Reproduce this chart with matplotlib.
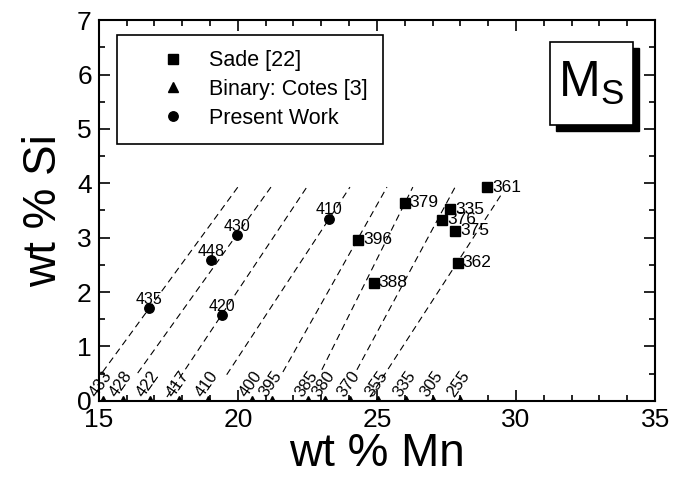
import numpy as np
import matplotlib
matplotlib.use("Agg")
import matplotlib.pyplot as plt
from matplotlib.patches import Rectangle

plt.rcParams['font.family'] = ['Liberation Sans', 'DejaVu Sans']
plt.rcParams['mathtext.default'] = 'regular'

# Sade [22]
sade_mn = [26.0, 24.32, 24.89, 27.63, 27.34, 27.81, 27.91, 28.96]
sade_si = [3.64, 2.96, 2.17, 3.52, 3.33, 3.13, 2.54, 3.93]
sade_ms = ['379', '396', '388', '335', '376', '375', '362', '361']

# Binary: Cotes [3]  (all at 0 wt% Si)
binary_mn = [15.14, 15.86, 16.83, 17.88, 18.92, 20.5, 21.22,
             22.52, 23.13, 24.03, 25.04, 26.04, 27.01, 27.99]
binary_si = [0.0] * 14
binary_ms = ['433', '428', '422', '417', '410', '400', '395',
             '385', '380', '370', '355', '335', '305', '255']

# Present work
present_mn = [16.8, 19.03, 19.96, 19.42, 23.27]
present_si = [1.71, 2.59, 3.05, 1.58, 3.35]
present_ms = ['435', '448', '430', '420', '410']

# iso-Ms dashed lines (end points)
iso_mn_top = [20.0, 21.19, 22.48, 24.03, 25.36, 26.29, 27.81, 29.53]
iso_si_top = [3.93, 3.93, 3.93, 3.93, 3.93, 3.93, 3.93, 3.84]
iso_mn_bot = [15.14, 16.40, 17.45, 19.6, 21.62, 23.02, 24.28, 24.75]
iso_si_bot = [0.53, 0.51, 0.07, 0.48, 0.53, 0.57, 0.57, 0.07]

fig = plt.figure(figsize=(6.81, 4.8), dpi=100)
ax = fig.add_axes([0.145, 0.165, 0.817, 0.793])

for x0, y0, x1, y1 in zip(iso_mn_bot, iso_si_bot, iso_mn_top, iso_si_top):
    ax.plot([x0, x1], [y0, y1], color='black', lw=0.8, ls=(0, (6, 4)))

ax.plot(sade_mn, sade_si, 's', color='black', ms=7, label='Sade [22]')
ax.plot(binary_mn, binary_si, '^', color='black', ms=7, label='Binary: Cotes [3]')
ax.plot(present_mn, present_si, 'o', color='black', ms=6.8, label='Present Work')

for x, y, t in zip(sade_mn, sade_si, sade_ms):
    ax.annotate(t, (x, y), xytext=(3.5, 0), textcoords='offset points',
                ha='left', va='center', fontsize=12.5)
for x, y, t in zip(present_mn, present_si, present_ms):
    ax.annotate(t, (x, y), xytext=(0, 3), textcoords='offset points',
                ha='center', va='baseline', fontsize=11.5)
for x, y, t in zip(binary_mn, binary_si, binary_ms):
    ax.text(x - 0.2, y + 0.05, t, rotation=55, rotation_mode='anchor',
            ha='left', va='baseline', fontsize=12, clip_on=False)

ax.set_xlim(15, 35)
ax.set_ylim(0, 7)
ax.set_xticks(np.arange(15, 36, 5))
ax.set_xticks(np.arange(15, 36, 1), minor=True)
ax.set_yticks(np.arange(0, 8, 1))
ax.set_yticks(np.arange(0, 7.1, 0.5), minor=True)
ax.tick_params(which='both', direction='in', top=True, right=True,
               labelsize=19, pad=5, width=1.2)
ax.tick_params(which='major', length=8)
ax.tick_params(which='minor', length=4)
for s in ax.spines.values():
    s.set_linewidth(1.5)

ax.set_xlabel('wt % Mn', fontsize=33, labelpad=0)
ax.set_ylabel('wt % Si', fontsize=33, labelpad=8)

leg = ax.legend(loc='upper left', bbox_to_anchor=(0.032, 0.96), fontsize=15.5,
                frameon=True, fancybox=False, edgecolor='black', framealpha=1,
                borderpad=0.7, handlelength=3.8, handletextpad=-0.2,
                labelspacing=0.35, borderaxespad=0, numpoints=1)
leg.get_frame().set_linewidth(1.2)

# M_S label box with shadow
ax.add_patch(Rectangle((0.822, 0.708), 0.149, 0.218, transform=ax.transAxes,
                       facecolor='black', edgecolor='black', clip_on=False))
ax.add_patch(Rectangle((0.811, 0.724), 0.149, 0.218, transform=ax.transAxes,
                       facecolor='white', edgecolor='black', lw=1.2, clip_on=False))
ax.text(0.8855, 0.833, r'M$_{S}$', transform=ax.transAxes, ha='center',
        va='center', fontsize=36)

fig.savefig('out.png', dpi=100)
